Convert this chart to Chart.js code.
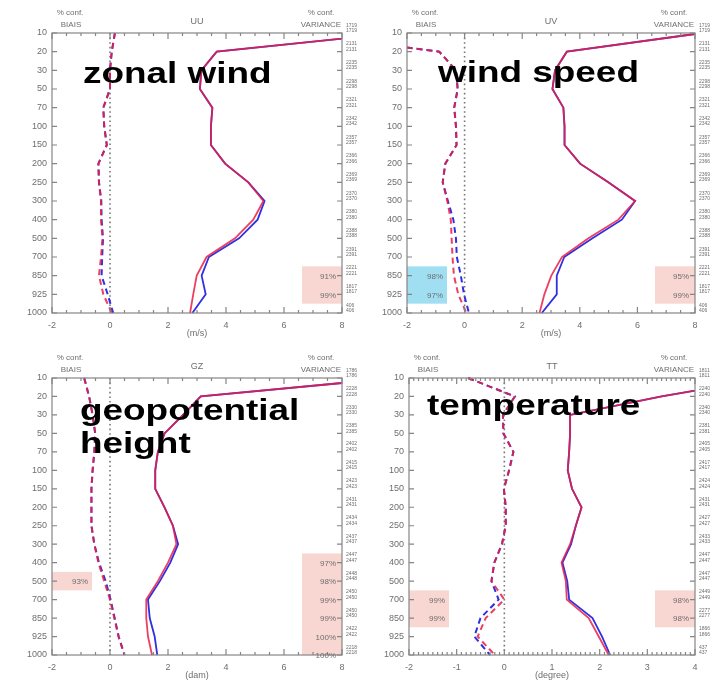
<!DOCTYPE html>
<html>
<head>
<meta charset="utf-8">
<script src="https://cdn.jsdelivr.net/npm/chart.js@4.4.1/dist/chart.umd.min.js"></script>
<style>
  html, body { margin: 0; padding: 0; background: #fff; }
  #wrap { position: relative; width: 727px; height: 686px; overflow: hidden; }
  .panel { position: absolute; }
</style>
</head>
<body>
<div id="wrap">
  <div class="panel" style="left:0;top:0"><canvas id="c1" width="360" height="340"></canvas></div>
  <div class="panel" style="left:360px;top:0"><canvas id="c2" width="367" height="340"></canvas></div>
  <div class="panel" style="left:0;top:340px"><canvas id="c3" width="360" height="346"></canvas></div>
  <div class="panel" style="left:360px;top:340px"><canvas id="c4" width="367" height="346"></canvas></div>
</div>
<script>
// pressure levels (hPa), top to bottom
const levels = ['10', '20', '30', '50', '70', '100', '150', '200', '250', '300', '400', '500', '700', '850', '925', '1000'];

// number of observations per level (right axis)
const uvCounts = [1719, 2131, 2235, 2298, 2321, 2342, 2357, 2366, 2369, 2370, 2380, 2388, 2391, 2221, 1817, 406];
const gzCounts = [1786, 2228, 2330, 2385, 2402, 2415, 2423, 2431, 2434, 2437, 2447, 2448, 2450, 2450, 2422, 2218];
const ttCounts = [1811, 2240, 2340, 2381, 2405, 2417, 2424, 2431, 2427, 2433, 2447, 2447, 2449, 2277, 1866, 437];

// UU - zonal wind
const uuStdRed   = [9.85, 3.68, 3.15, 3.10, 3.53, 3.48, 3.48, 3.97, 4.77, 5.29, 4.94, 4.31, 3.33, 2.99, 2.87, 2.76];
const uuStdBlue  = [9.85, 3.68, 3.15, 3.10, 3.53, 3.48, 3.48, 3.97, 4.77, 5.33, 5.09, 4.45, 3.41, 3.16, 3.30, 2.84];
const uuBiasRed  = [0.17, 0.06, 0.00, 0.00, -0.23, -0.20, -0.11, -0.40, -0.38, -0.31, -0.31, -0.26, -0.31, -0.38, -0.23, 0.06];
const uuBiasBlue = [0.17, 0.06, 0.00, 0.00, -0.23, -0.20, -0.11, -0.40, -0.38, -0.30, -0.29, -0.24, -0.27, -0.29, -0.08, 0.11];
const uuBiasConf = [];
const uuVarConf  = [['850', '91%'], ['925', '99%']];

// UV - wind speed
const uvStdRed   = [8.25, 3.55, 3.14, 3.05, 3.43, 3.47, 3.47, 4.01, 4.99, 5.92, 5.34, 4.30, 3.38, 3.01, 2.77, 2.60];
const uvStdBlue  = [8.25, 3.55, 3.14, 3.05, 3.43, 3.47, 3.47, 4.01, 4.99, 5.92, 5.46, 4.44, 3.46, 3.20, 3.20, 2.68];
const uvBiasRed  = [-5.8, -0.88, -0.30, -0.24, -0.36, -0.30, -0.28, -0.67, -0.76, -0.60, -0.48, -0.45, -0.42, -0.37, -0.22, 0.06];
const uvBiasBlue = [-5.8, -0.88, -0.30, -0.24, -0.36, -0.30, -0.28, -0.67, -0.76, -0.58, -0.39, -0.30, -0.27, -0.13, -0.02, 0.15];
const uvBiasConf = [['850', '98%'], ['925', '97%']];
const uvVarConf  = [['850', '95%'], ['925', '99%']];

// GZ - geopotential height
const gzStdRed   = [9.8, 3.13, 2.52, 1.88, 1.65, 1.56, 1.56, 1.88, 2.17, 2.29, 2.00, 1.65, 1.25, 1.25, 1.31, 1.45];
const gzStdBlue  = [9.8, 3.13, 2.52, 1.88, 1.65, 1.56, 1.56, 1.88, 2.17, 2.35, 2.08, 1.72, 1.31, 1.37, 1.54, 1.63];
const gzBiasRed  = [-0.89, -0.72, -0.60, -0.51, -0.54, -0.60, -0.64, -0.64, -0.64, -0.54, -0.40, -0.20, 0.00, 0.15, 0.29, 0.50];
const gzBiasBlue = [-0.89, -0.72, -0.60, -0.51, -0.54, -0.60, -0.64, -0.64, -0.64, -0.54, -0.38, -0.15, 0.02, 0.16, 0.30, 0.50];
const gzBiasConf = [['500', '93%']];
const gzVarConf  = [['400', '97%'], ['500', '98%'], ['700', '99%'], ['850', '99%'], ['925', '100%'], ['1000', '100%']];

// TT - temperature
const ttStdRed   = [5.5, 3.3, 1.38, 1.38, 1.36, 1.33, 1.42, 1.62, 1.50, 1.38, 1.20, 1.29, 1.31, 1.77, 1.98, 2.19];
const ttStdBlue  = [5.5, 3.3, 1.38, 1.38, 1.36, 1.33, 1.42, 1.62, 1.50, 1.40, 1.22, 1.32, 1.36, 1.85, 2.05, 2.22];
const ttBiasRed  = [-0.76, 0.22, -0.03, -0.02, 0.19, 0.10, -0.01, 0.03, 0.03, -0.05, -0.21, -0.27, 0.00, -0.39, -0.56, -0.20];
const ttBiasBlue = [-0.76, 0.22, -0.03, -0.02, 0.19, 0.10, -0.01, 0.03, 0.03, -0.05, -0.21, -0.27, -0.12, -0.50, -0.63, -0.30];
const ttBiasConf = [['700', '99%'], ['850', '99%']];
const ttVarConf  = [['700', '98%'], ['850', '98%']];

const RED = 'rgba(232, 30, 70, 0.85)';
const BLUE = 'rgb(48, 48, 225)';
const PINK = 'rgb(248, 214, 210)';
const CYAN = 'rgb(160, 222, 242)';
const GREY = '#6e6e6e';
const FONT = '"Liberation Sans", Arial, sans-serif';

const panels = [
    { id: 'c1', title: 'UU', unit: '(m/s)', label: ['zonal wind'], lx: 83, ly: 83,
      min: -2, max: 8, major: 2, minor: 0.5, area: [52, 342, 33, 313], counts: uvCounts,
      stdRed: uuStdRed, stdBlue: uuStdBlue, biasRed: uuBiasRed, biasBlue: uuBiasBlue,
      biasConf: uuBiasConf, varConf: uuVarConf, biasColor: PINK },
    { id: 'c2', title: 'UV', unit: '(m/s)', label: ['wind speed'], lx: 78, ly: 82,
      min: -2, max: 8, major: 2, minor: 0.5, area: [47, 335, 33, 313], counts: uvCounts,
      stdRed: uvStdRed, stdBlue: uvStdBlue, biasRed: uvBiasRed, biasBlue: uvBiasBlue,
      biasConf: uvBiasConf, varConf: uvVarConf, biasColor: CYAN },
    { id: 'c3', title: 'GZ', unit: '(dam)', label: ['geopotential', 'height'], lx: 80, ly: 80,
      min: -2, max: 8, major: 2, minor: 0.5, area: [52, 342, 38, 315], counts: gzCounts,
      stdRed: gzStdRed, stdBlue: gzStdBlue, biasRed: gzBiasRed, biasBlue: gzBiasBlue,
      biasConf: gzBiasConf, varConf: gzVarConf, biasColor: PINK },
    { id: 'c4', title: 'TT', unit: '(degree)', label: ['temperature'], lx: 67, ly: 75,
      min: -2, max: 4, major: 1, minor: 0.1, area: [49, 335, 38, 315], counts: ttCounts,
      stdRed: ttStdRed, stdBlue: ttStdBlue, biasRed: ttBiasRed, biasBlue: ttBiasBlue,
      biasConf: ttBiasConf, varConf: ttVarConf, biasColor: PINK }
];

// boxes, zero line, frame, ticks and texts around the plot
const decor = {
    id: 'decor',
    beforeDatasetsDraw(chart) {
        const p = chart.options.plugins.decor.panel;
        const { ctx, chartArea: a, scales: { x, y } } = chart;
        ctx.save();
        ctx.beginPath();
        ctx.rect(a.left, a.top, a.right - a.left, a.bottom - a.top);
        ctx.clip();
        [[p.biasConf, 'left'], [p.varConf, 'right']].forEach(([list, side]) => {
            if (!list.length) return;
            const idx = list.map(c => levels.indexOf(c[0]));
            const y0 = y.getPixelForValue(Math.min(...idx) - 0.5);
            const y1 = y.getPixelForValue(Math.max(...idx) + 0.5);
            ctx.fillStyle = side === 'left' ? p.biasColor : PINK;
            ctx.fillRect(side === 'left' ? a.left : a.right - 40, y0, 40, y1 - y0);
        });
        // dotted zero line
        const x0 = x.getPixelForValue(0);
        ctx.strokeStyle = '#777';
        ctx.lineWidth = 1.6;
        ctx.setLineDash([1.6, 3]);
        ctx.beginPath();
        ctx.moveTo(x0, a.top);
        ctx.lineTo(x0, a.bottom);
        ctx.stroke();
        ctx.restore();
    },
    afterDatasetsDraw(chart) {
        const p = chart.options.plugins.decor.panel;
        const { ctx, chartArea: a, scales: { x, y } } = chart;
        ctx.save();
        ctx.strokeStyle = '#858585';
        ctx.lineWidth = 1.2;
        ctx.strokeRect(a.left, a.top, a.right - a.left, a.bottom - a.top);
        ctx.beginPath();
        levels.forEach((l, i) => {
            const py = y.getPixelForValue(i);
            ctx.moveTo(a.left, py); ctx.lineTo(a.left + 5, py);
            ctx.moveTo(a.right - 5, py); ctx.lineTo(a.right, py);
        });
        const n = Math.round((p.max - p.min) / p.minor);
        for (let k = 0; k <= n; k++) {
            const v = p.min + k * p.minor;
            const isMajor = Math.abs(v / p.major - Math.round(v / p.major)) < 1e-6;
            const len = isMajor ? 6 : 3;
            const px = x.getPixelForValue(v);
            ctx.moveTo(px, a.top); ctx.lineTo(px, a.top + len);
            ctx.moveTo(px, a.bottom); ctx.lineTo(px, a.bottom - len);
        }
        ctx.stroke();

        // confidence percentages
        ctx.fillStyle = GREY;
        ctx.font = '8px ' + FONT;
        ctx.textAlign = 'right';
        ctx.textBaseline = 'middle';
        p.biasConf.forEach(c => ctx.fillText(c[1], a.left + 36, y.getPixelForValue(levels.indexOf(c[0])) + 1));
        p.varConf.forEach(c => ctx.fillText(c[1], a.right - 6, y.getPixelForValue(levels.indexOf(c[0])) + 1));

        // headers
        ctx.textAlign = 'center';
        ctx.font = '9px ' + FONT;
        ctx.fillText(p.title, (a.left + a.right) / 2, a.top - 11);
        ctx.fillText(p.unit, (a.left + a.right) / 2, a.bottom + 21);
        ctx.font = '8px ' + FONT;
        ctx.fillText('% conf.', a.left + 18, a.top - 20);
        ctx.fillText('BIAIS', a.left + 19, a.top - 8.5);
        ctx.fillText('% conf.', a.right - 21, a.top - 20);
        ctx.fillText('VARIANCE', a.right - 21, a.top - 8.5);

        // overlay label
        ctx.fillStyle = '#000';
        ctx.font = 'bold 30px ' + FONT;
        ctx.textAlign = 'left';
        ctx.textBaseline = 'alphabetic';
        p.label.forEach((t, i) => {
            ctx.save();
            ctx.translate(p.lx, p.ly + i * 33);
            ctx.scale(1.23, 1);
            ctx.fillText(t, 0, 0);
            ctx.restore();
        });
        ctx.restore();
    }
};

function line(data, color, dashed) {
    return {
        data: data,
        borderColor: color,
        borderWidth: dashed ? 2 : 1.8,
        borderDash: dashed ? [6, 4] : [],
        pointRadius: 0,
        tension: 0,
        fill: false
    };
}

panels.forEach(p => {
    const canvas = document.getElementById(p.id);
    const [L, R, T, B] = p.area;
    new Chart(canvas.getContext('2d'), {
        type: 'line',
        data: {
            labels: levels,
            // dataset 0 is drawn last, so red sits on top of blue
            datasets: [
                line(p.stdRed, RED, false),
                line(p.stdBlue, BLUE, false),
                line(p.biasRed, RED, true),
                line(p.biasBlue, BLUE, true)
            ]
        },
        options: {
            indexAxis: 'y',
            responsive: false,
            animation: false,
            devicePixelRatio: 1,
            layout: { padding: { top: T, left: 0, right: 0, bottom: 0 } },
            plugins: {
                legend: { display: false },
                tooltip: { enabled: false },
                decor: { panel: p }
            },
            scales: {
                x: {
                    type: 'linear', min: p.min, max: p.max,
                    grid: { display: false, drawTicks: false }, border: { display: false },
                    ticks: { stepSize: p.major, color: GREY, padding: 7, font: { size: 9, family: FONT } },
                    afterFit: s => { s.height = canvas.height - B; }
                },
                y: {
                    type: 'category', position: 'left', offset: false,
                    grid: { display: false, drawTicks: false }, border: { display: false },
                    ticks: { autoSkip: false, color: GREY, padding: 5, font: { size: 9, family: FONT } },
                    afterFit: s => { s.width = L; }
                },
                y2: {
                    type: 'category', position: 'right', offset: false,
                    labels: p.counts.map(c => [String(c), String(c)]),
                    grid: { display: false, drawTicks: false }, border: { display: false },
                    ticks: { autoSkip: false, color: GREY, padding: 4, labelOffset: -5,
                             font: { size: 5, family: FONT, lineHeight: 1.1 } },
                    afterFit: s => { s.width = canvas.width - R; }
                }
            }
        },
        plugins: [decor]
    });
});
</script>
</body>
</html>
